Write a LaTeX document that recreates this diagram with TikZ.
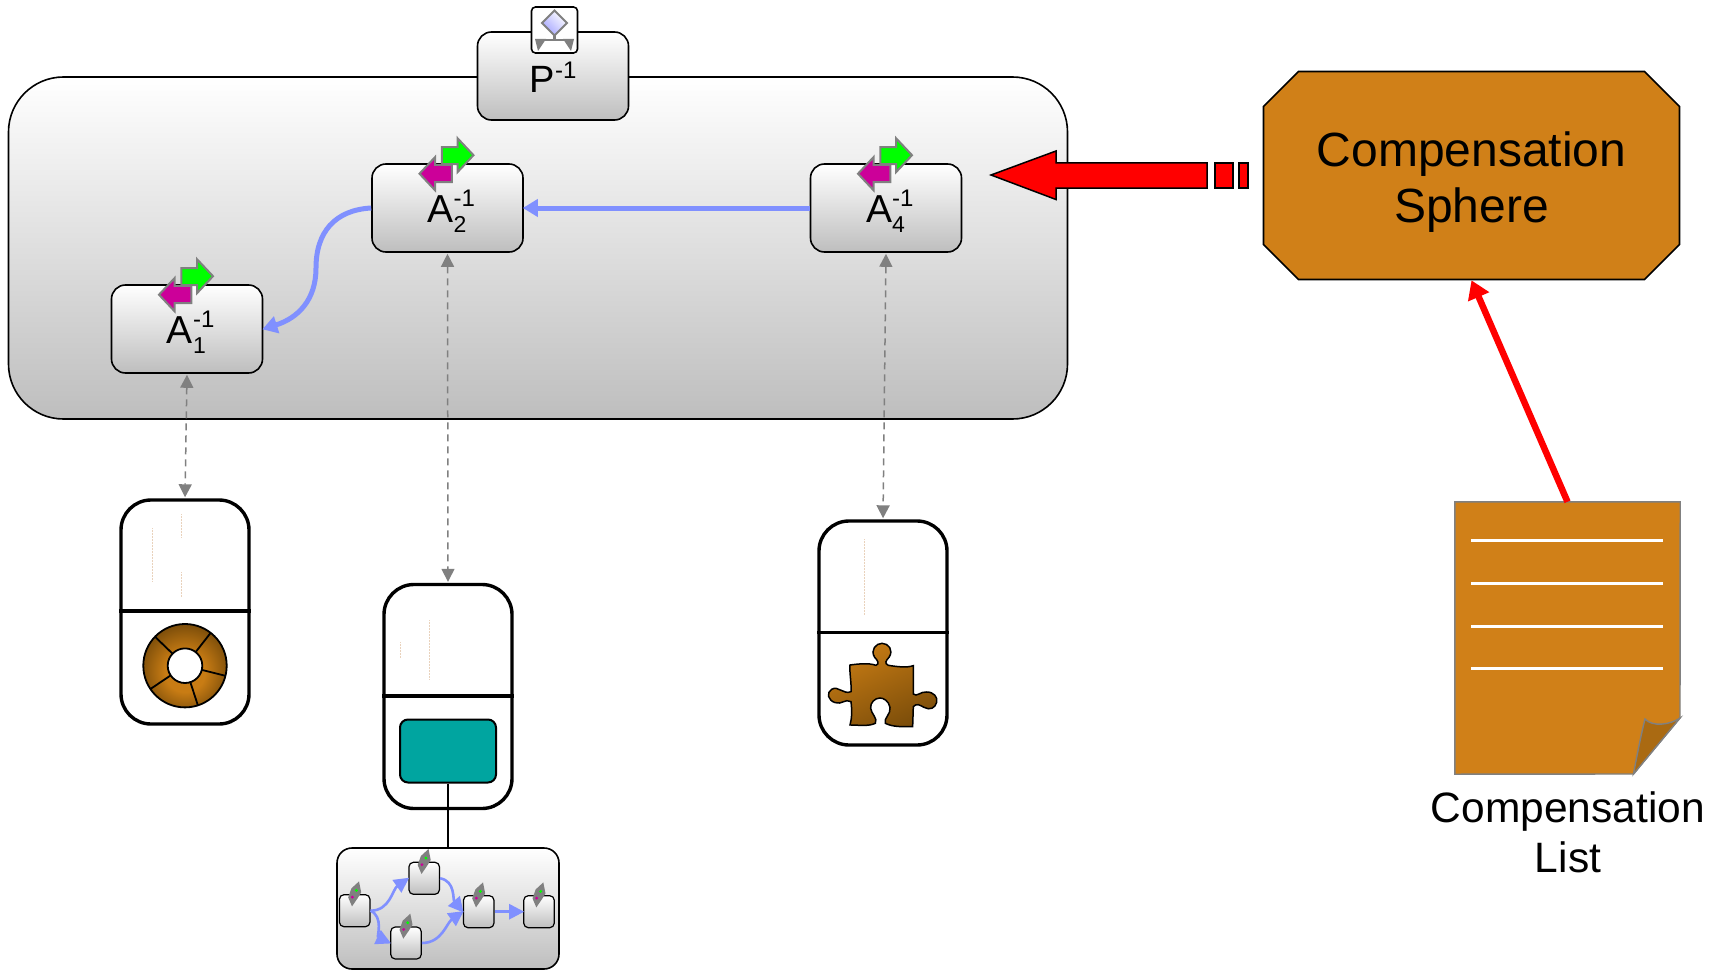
\documentclass[tikz,border=0pt]{standalone}
\usepackage{fontspec}
\setmainfont{Liberation Sans}
\usetikzlibrary{arrows.meta,shapes.misc}
\definecolor{ochre}{HTML}{D08018}
\definecolor{ochredark}{HTML}{AA6A12}
\definecolor{browndark}{HTML}{6E4508}
\definecolor{brownlight}{HTML}{C87C14}
\definecolor{flowblue}{HTML}{8090FF}
\definecolor{tealbox}{HTML}{00A5A0}
\definecolor{pinkarrow}{HTML}{CC0099}
\definecolor{boxgray}{HTML}{BEBEBE}
\pgfdeclareradialshading{wheelshade}{\pgfpoint{0bp}{-5bp}}{color(0bp)=(brownlight);color(12bp)=(brownlight);color(30bp)=(browndark);color(50bp)=(browndark)}
\newcommand{\invlabel}[2]{{\fontsize{39}{39}\selectfont #1}\rlap{\raisebox{16pt}{\fontsize{24}{24}\selectfont -1}}\rlap{\raisebox{-10pt}{\fontsize{23}{23}\selectfont #2}}\kern14pt}
\tikzset{
  actbox/.style={draw=black,line width=1.6pt,rounded corners=14pt,top color=white,bottom color=boxgray,
    minimum width=151pt,minimum height=88pt,inner sep=0pt,text height=31pt,text depth=2pt},
  minibox/.style={draw=black,line width=1.2pt,rounded corners=4.5pt,top color=white,bottom color=boxgray,
    minimum width=30.5pt,minimum height=32pt,inner sep=0pt},
  pillbox/.style={draw=black,line width=3.4pt,rounded corners=30pt,fill=white,
    minimum width=128pt,minimum height=224pt,inner sep=0pt},
  pilldiv/.style={draw=black,line width=3.2pt},
  flow/.style={draw=flowblue,line width=5pt,-{Triangle[length=15pt,width=17pt]},shorten >=-1pt},
  miniflow/.style={draw=flowblue,line width=2.6pt,-{Triangle[length=15pt,width=15pt]},shorten >=-1pt},
  link/.style={draw=gray,line width=1.5pt,dash pattern=on 7pt off 5pt,{Triangle[length=13pt,width=13pt]}-{Triangle[length=13pt,width=13pt]},shorten <=1pt,shorten >=1pt},
  streak/.style={draw=brown!35,line width=.5pt,densely dotted},
  marker/.style={draw=gray,line width=2pt,line join=miter},
  transicon/.pic={
    \draw[marker,fill=green] (-5.7,-16)--(10,-16)--(10,-25)--(26,-8)--(10,9)--(10,1)--(-5.7,1)--cycle;
    \draw[marker,fill=pinkarrow] (4.3,1.7)--(-12.5,1.7)--(-12.5,-6)--(-28,10.5)--(-12.5,27)--(-12.5,19)--(4.3,19)--cycle;
  },
  tinyicon/.pic={
    \fill[gray] (4.3,-12.7)--(6.5,-1.7)--(3,4)--(-2.7,12.3)--(-6.5,3.3)--(-3.3,-5.7)--cycle;
    \fill[green] (1.7,-3.7) circle (1.6pt);
    \fill[pinkarrow] (-2.3,3) circle (1.6pt);
  }
}
\begin{document}
\begin{tikzpicture}[x=1pt,y=-1pt]
  \useasboundingbox (0,0) rectangle (1719,971);

  % process frame
  \node[draw=black,line width=1.6pt,rounded corners=55pt,top color=white,bottom color=boxgray,
    minimum width=1059pt,minimum height=342pt,inner sep=0pt] (frame) at (538,248) {};
  \node[actbox,text height=36pt,text depth=3pt] (pinv) at (553,76) {{\fontsize{38}{38}\selectfont P}\raisebox{14pt}{\fontsize{24}{24}\selectfont -1}};
  \node[draw=black,line width=1.6pt,rounded corners=4pt,fill=white,minimum width=46pt,minimum height=46pt,inner sep=0pt] (gate) at (554.5,30) {};
  \shade[draw=gray,line width=2pt,left color=white,right color=blue!35,shading angle=-45]
    (554.5,10.5)--(567,23)--(554.5,35.5)--(542,23)--cycle;
  \draw[gray,line width=2.4pt] (554.5,35)--(554.5,40) (540,40)--(569,40);
  \fill[gray] (535,39)--(546,39)--(538,51)--cycle;
  \fill[gray] (574,39)--(563,39)--(571,51)--cycle;

  % activities
  \node[actbox] (a2) at (447.5,208) {\invlabel{A}{2}};
  \node[actbox] (a4) at (886,208) {\invlabel{A}{4}};
  \node[actbox] (a1) at (187,329) {\invlabel{A}{1}};
  \pic at (a2.north) {transicon};
  \pic at (a4.north) {transicon};
  \pic at (a1.north) {transicon};
  \draw[flow] (a4.west) -- (a2.east);
  \draw[flow] (a2.west) .. controls (335,210) and (316,232) .. (316,268) .. controls (316,300) and (298,318) .. (a1.east);

  % compensation arrow
  \draw[draw=black,fill=red,line width=1.5pt] (991,175)--(1056,151)--(1056,163)--(1207,163)--(1207,188)--(1056,188)--(1056,199.5)--cycle;
  \draw[draw=black,fill=red,line width=1.5pt] (1215,163) rectangle (1233,188);
  \draw[draw=black,fill=red,line width=1.5pt] (1239,163) rectangle (1248,188);
  \node[chamfered rectangle,chamfered rectangle xsep=17.5pt,chamfered rectangle ysep=17.5pt,draw=black,line width=1.7pt,fill=ochre,
    minimum width=416pt,minimum height=208pt,inner sep=0pt,align=center,font=\fontsize{48}{56}\selectfont] (sphere) at (1471.5,175.5) {\rule{0pt}{48pt}Compensation\\Sphere};

  % implementations
  \node[pillbox] (pill1) at (185,612) {};
  \node[pillbox] (pill2) at (448,696.5) {};
  \node[pillbox] (pill3) at (883,633) {};
  \draw[pilldiv] (pill1.west |- 0,611) -- (pill1.east |- 0,611);
  \draw[pilldiv] (pill2.west |- 0,696) -- (pill2.east |- 0,696);
  \draw[pilldiv] (pill3.west |- 0,632.5) -- (pill3.east |- 0,632.5);
  \draw[link] (a1.south) -- (pill1.north);
  \draw[link] (a2.south) -- (pill2.north);
  \draw[link] (a4.south) -- (pill3.north);
  \draw[streak] (152,528)--(152,582);
  \draw[streak] (181,514)--(181,538);
  \draw[streak] (181,572)--(181,597);
  \draw[streak] (400,642)--(400,658);
  \draw[streak] (429,620)--(429,680);
  \draw[streak] (864,539)--(864,615);

  % wheel
  \shade[shading=wheelshade] (185,665.7) circle (41.7pt);
  \draw[black,line width=1.8pt] (185,665.7) circle (41.7pt);
  \foreach \ang in {52,-14,-72,214,136}
    \draw[black,line width=1.8pt,shift={(185,665.7)}] (\ang:17.3pt) -- (\ang:41.7pt);
  \draw[black,fill=white,line width=1.8pt] (185,665.7) circle (17.3pt);

  % puzzle piece
  \begin{scope}[shift={(800,510)},scale=0.3333]
    \shadedraw[draw=black,line width=1.5pt,top color=brownlight,bottom color=browndark!85!brownlight,shading angle=25]
      (150,465) .. controls (175,462) and (205,458) .. (228,466)
      .. controls (240,462) and (232,450) .. (224,442)
      .. controls (210,420) and (228,400) .. (246,400)
      .. controls (265,400) and (282,420) .. (267,442)
      .. controls (258,452) and (252,460) .. (265,466)
      .. controls (290,470) and (320,474) .. (340,467)
      -- (340,552)
      .. controls (350,562) and (362,544) .. (380,546)
      .. controls (402,546) and (414,562) .. (410,577)
      .. controls (406,594) and (390,602) .. (372,592)
      .. controls (360,586) and (350,578) .. (340,590)
      -- (338,650)
      .. controls (310,650) and (280,652) .. (256,640)
      .. controls (250,625) and (274,612) .. (270,592)
      .. controls (266,572) and (250,564) .. (240,564)
      .. controls (225,564) and (210,578) .. (212,595)
      .. controls (214,612) and (234,625) .. (226,640)
      .. controls (205,650) and (175,645) .. (150,645)
      .. controls (156,625) and (156,600) .. (153,575)
      .. controls (135,565) and (125,585) .. (106,578)
      .. controls (84,572) and (78,548) .. (95,538)
      .. controls (115,526) and (130,555) .. (153,545)
      .. controls (155,520) and (148,490) .. (150,465) -- cycle;
  \end{scope}

  % subprocess
  \node[draw=black,line width=2pt,rounded corners=8pt,fill=tealbox,minimum width=96pt,minimum height=63pt,inner sep=0pt] (teal) at (448,751) {};
  \node[draw=black,line width=1.6pt,rounded corners=15pt,top color=white,bottom color=boxgray,
    minimum width=222pt,minimum height=121pt,inner sep=0pt] (mini) at (448,908.5) {};
  \draw[black,line width=1.4pt] (teal.south) -- (mini.north);
  \node[minibox] (m1) at (354.7,910.7) {};
  \node[minibox] (m2) at (424.2,878.3) {};
  \node[minibox] (m3) at (406,943) {};
  \node[minibox] (m4) at (478.7,911.7) {};
  \node[minibox] (m5) at (539,911.7) {};
  \foreach \nd in {m1,m2,m3,m4,m5}
    \pic at (\nd.north) {tinyicon};
  \draw[miniflow] (m1.east) to[out=0,in=215] (m2.west);
  \draw[miniflow] (m1.east) to[out=-25,in=155] (m3.west);
  \draw[miniflow] (m2.east) to[out=-10,in=130] (m4.west);
  \draw[miniflow] (m3.east) to[out=0,in=215] (m4.west);
  \draw[miniflow] (m4.east) -- (m5.west);

  % compensation list
  \node[minimum width=225pt,minimum height=272pt,inner sep=0pt] (doc) at (1567.5,638) {};
  \draw[draw=gray,line width=1.4pt,fill=ochre] (doc.north west) -- (doc.north east) -- (1680,718) -- (1633.5,774) -- (doc.south west) -- cycle;
  \draw[draw=gray,line width=1.4pt,fill=ochredark] (1680,718) -- (1633.5,774) .. controls (1637,755) and (1641,735) .. (1645,719) .. controls (1652,727) and (1670,725) .. (1680,718) -- cycle;
  \foreach \yy in {540.5,583,626,668}
    \draw[white,line width=3pt] (1471,\yy) -- (1663,\yy);
  \node[align=center,inner sep=0pt,font=\fontsize{42.5}{50}\selectfont] (doclabel) at (1568,832) {Compensation\\List};
  \draw[red,line width=6.5pt,-{Triangle[length=18pt,width=22pt]}] (doc.north) -- (sphere.south);
\end{tikzpicture}
\end{document}
